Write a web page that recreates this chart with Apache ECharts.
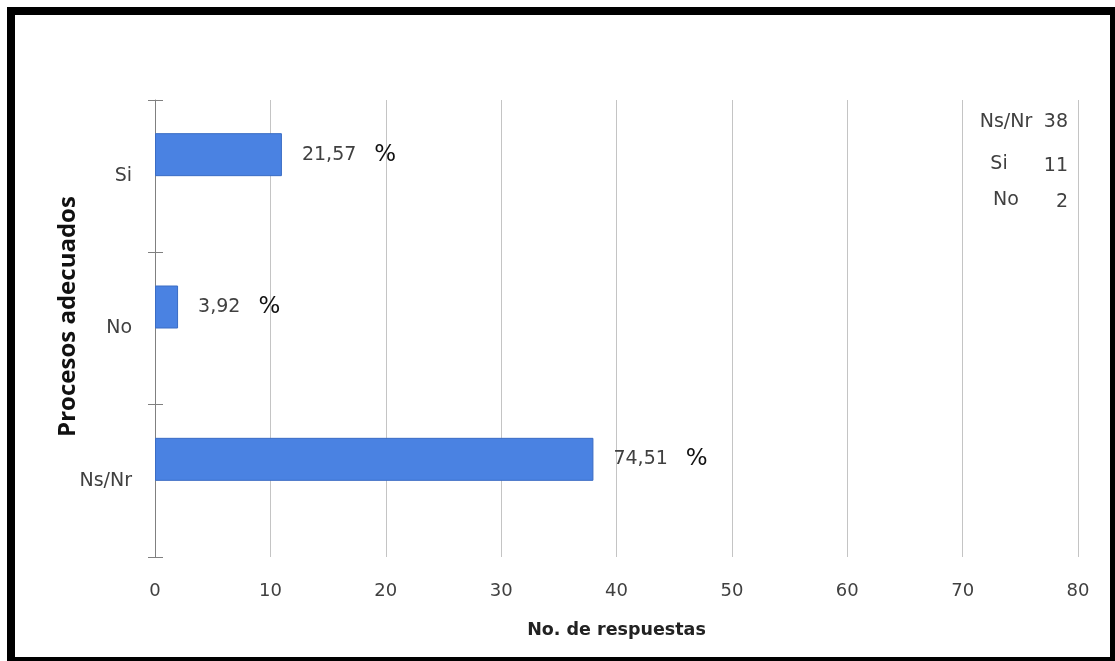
<!DOCTYPE html>
<html>
<head>
<meta charset="utf-8">
<script src="https://cdn.jsdelivr.net/npm/echarts@6/dist/echarts.min.js"></script>
<style>
  html, body { margin: 0; padding: 0; background: #fff; }
  #chart { position: absolute; left: 0; top: 0; width: 1115px; height: 661px; }
  #frame { position: absolute; left: 7px; top: 7px; width: 1111px; height: 658px; box-sizing: border-box; border: 8px solid #000; pointer-events: none; }
</style>
</head>
<body>
<div id="chart"></div>
<div id="frame"></div>
<script>
const categories = ['Ns/Nr', 'No', 'Si'];
const respuestas = [38, 2, 11];
const porcentajes = ['74,51', '3,92', '21,57'];
const tableNames = ['Ns/Nr', 'Si', 'No'];
const tableValues = [38, 11, 2];

const chart = echarts.init(document.getElementById('chart'));
const font = 'DejaVu Sans';

// small data table in the top-right corner
const rowY = [122, 164, 200];
const nameX = [1006, 999, 1006];
const tableGraphics = [];
tableNames.forEach((n, i) => {
  tableGraphics.push({ type: 'text', silent: true, x: nameX[i], y: rowY[i],
    style: { text: n, fill: '#404040', font: '19px ' + font, align: 'center', verticalAlign: 'middle' } });
  tableGraphics.push({ type: 'text', silent: true, x: 1068, y: rowY[i] + (i === 0 ? 0 : 2),
    style: { text: String(tableValues[i]), fill: '#404040', font: '19px ' + font, align: 'right', verticalAlign: 'middle' } });
});

chart.setOption({
  animation: false,
  grid: { left: 155, right: 37, top: 100, bottom: 104 },
  xAxis: {
    type: 'value', min: 0, max: 80, interval: 10,
    name: 'No. de respuestas', nameLocation: 'middle', nameGap: 64,
    nameTextStyle: { fontFamily: font, fontWeight: 'bold', fontSize: 17.5, color: '#222' },
    axisLine: { show: false }, axisTick: { show: false },
    axisLabel: { fontFamily: font, fontSize: 18, color: '#404040', margin: 25 },
    splitLine: { show: true, lineStyle: { color: '#c4c4c4', width: 1 } }
  },
  yAxis: [{
    type: 'category', data: categories,
    name: 'Procesos adecuados', nameLocation: 'middle', nameGap: 75, nameRotate: 90,
    nameMoveOverlap: false,
    nameTextStyle: { fontFamily: 'Open Sans', fontWeight: 'bold', fontSize: 24, color: '#111', padding: [0, 0, 0, 24] },
    axisLine: { show: true, lineStyle: { color: '#808080', width: 1 } },
    axisTick: { show: true, length: 7, lineStyle: { color: '#808080' } },
    axisLabel: { fontFamily: font, fontSize: 19, color: '#404040', margin: 23 }
  }, {
    type: 'category', data: categories, position: 'left',
    axisLine: { show: false },
    axisTick: { show: true, inside: true, length: 8, lineStyle: { color: '#808080' } },
    axisLabel: { show: false }, splitLine: { show: false }
  }],
  series: [{
    type: 'bar', yAxisIndex: 0, data: respuestas, barWidth: 43, barGap: '0%',
    itemStyle: { color: '#4a82e2', borderColor: '#3a6cc4', borderWidth: 1 },
    label: {
      show: true, position: 'right', distance: 20,
      formatter: p => '{a|' + porcentajes[p.dataIndex] + '}{b|%}',
      rich: {
        a: { fontFamily: font, fontSize: 19, color: '#404040' },
        b: { fontFamily: font, fontSize: 23, color: '#111', padding: [0, 0, 0, 18] }
      }
    }
  }, {
    type: 'bar', yAxisIndex: 0, data: categories.map(() => null), barWidth: 43, barGap: '0%', silent: true
  }],
  graphic: tableGraphics
});
</script>
</body>
</html>
